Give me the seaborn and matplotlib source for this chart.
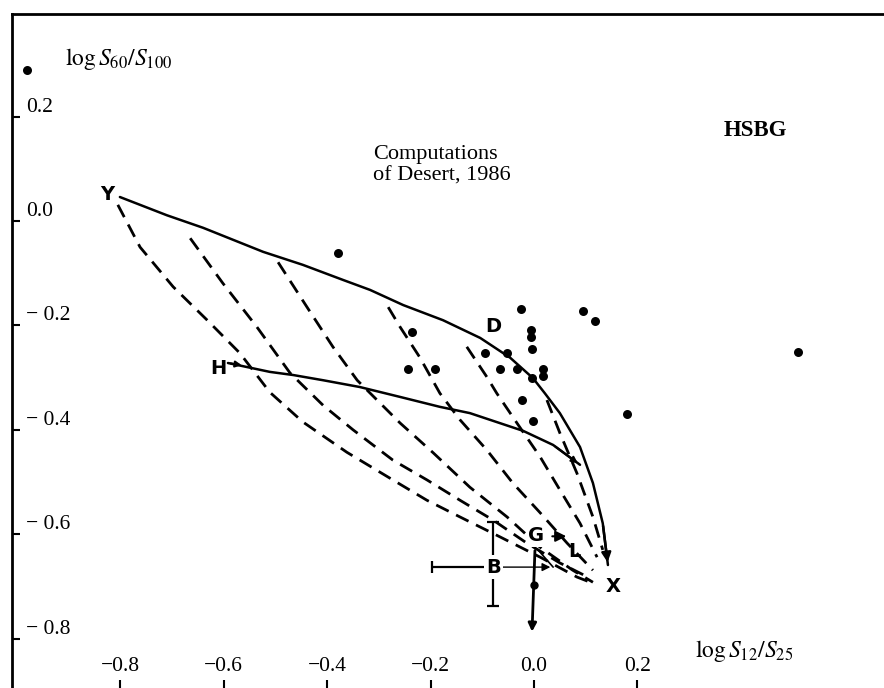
import numpy as np
import pandas as pd
import matplotlib.pyplot as plt
import seaborn as sns

sns.set_theme(style='white')
plt.rcParams['font.family'] = ['Liberation Serif', 'DejaVu Serif']
plt.rcParams['mathtext.fontset'] = 'stix'
plt.rcParams['text.color'] = 'black'

# HSBG sources: log S12/S25 vs log S60/S100
dot_x = [-0.981, -0.379, -0.025, 0.095, 0.118, -0.236, -0.006, -0.006, -0.004,
         -0.095, -0.052, -0.244, -0.191, -0.066, -0.033, 0.017, 0.017, -0.004,
         -0.023, -0.002, 0.180, 0.511]
dot_y = [0.289, -0.061, -0.169, -0.172, -0.192, -0.213, -0.209, -0.222, -0.245,
         -0.253, -0.253, -0.284, -0.284, -0.284, -0.284, -0.284, -0.297, -0.301,
         -0.343, -0.383, -0.370, -0.251]

# computations of Desert (1986): solid curves
yx_x = [-0.801, -0.710, -0.640, -0.524, -0.447, -0.369, -0.317, -0.253, -0.176,
        -0.104, -0.046, -0.002, 0.021, 0.050, 0.089, 0.114, 0.133, 0.143]
yx_y = [0.046, 0.011, -0.013, -0.059, -0.084, -0.113, -0.132, -0.161, -0.190,
        -0.224, -0.262, -0.301, -0.330, -0.368, -0.433, -0.502, -0.579, -0.659]
hx_x = [-0.592, -0.511, -0.466, -0.408, -0.337, -0.259, -0.182, -0.124, -0.021, 0.037, 0.089]
hx_y = [-0.272, -0.289, -0.295, -0.305, -0.318, -0.337, -0.356, -0.368, -0.402, -0.429, -0.467]

# dashed curves
d1_x = [-0.805, -0.762, -0.698, -0.632, -0.569, -0.511, -0.447, -0.362, -0.273,
        -0.207, -0.143, -0.066, 0.012, 0.083, 0.114]
d1_y = [0.031, -0.050, -0.126, -0.190, -0.253, -0.328, -0.385, -0.443, -0.496,
        -0.535, -0.567, -0.605, -0.644, -0.682, -0.694]
d2_x = [-0.665, -0.602, -0.536, -0.472, -0.408, -0.350, -0.273, -0.207, -0.143,
        -0.079, -0.014, 0.050, 0.108]
d2_y = [-0.033, -0.119, -0.203, -0.291, -0.353, -0.400, -0.458, -0.496, -0.535,
        -0.573, -0.617, -0.655, -0.684]
d3_x = [-0.495, -0.439, -0.389, -0.342, -0.259, -0.195, -0.124, -0.052, 0.012, 0.075, 0.114]
d3_y = [-0.079, -0.165, -0.241, -0.305, -0.387, -0.444, -0.510, -0.567, -0.625, -0.669, -0.692]
d4_x = [-0.282, -0.259, -0.221, -0.182, -0.143, -0.091, -0.041, 0.012, 0.064, 0.114]
d4_y = [-0.165, -0.203, -0.261, -0.330, -0.381, -0.439, -0.502, -0.559, -0.617, -0.669]
d5_x = [-0.130, -0.091, -0.072, -0.033, 0.012, 0.050, 0.089, 0.122]
d5_y = [-0.241, -0.299, -0.330, -0.387, -0.452, -0.515, -0.579, -0.644]
d6_x = [0.025, 0.050, 0.083, 0.114, 0.133]
d6_y = [-0.343, -0.406, -0.483, -0.567, -0.630]

# letters
lab_text = ['Y', 'H', 'D', 'G', 'L', 'B', 'X']
lab_x = [-0.826, -0.611, -0.079, 0.004, 0.079, -0.079, 0.153]
lab_y = [0.050, -0.282, -0.203, -0.603, -0.634, -0.663, -0.701]

# B with its range
b_x, b_y = -0.079, -0.663
b_xlo, b_xhi = -0.197, 0.037
b_ylo, b_yhi = -0.738, -0.577

xticks = [-0.8, -0.6, -0.4, -0.2, 0.0, 0.2]
xticklabels = ['−0.8', '−0.6', '−0.4', '−0.2', '0.0', '0.2']
yticks = [0.2, 0.0, -0.2, -0.4, -0.6, -0.8]
yticklabels = ['0.2', '0.0', '− 0.2', '− 0.4', '− 0.6', '− 0.8']

fig = plt.figure(figsize=(8.84, 6.88), dpi=100)
ax = fig.add_axes([12 / 884, 0, 1 - 12 / 884, 674 / 688])

for cx, cy in [(yx_x, yx_y), (hx_x, hx_y)]:
    sns.lineplot(x=cx, y=cy, sort=False, estimator=None, color='black', lw=1.8, ax=ax)

for cx, cy in [(d1_x, d1_y), (d2_x, d2_y), (d3_x, d3_y), (d4_x, d4_y), (d5_x, d5_y), (d6_x, d6_y)]:
    sns.lineplot(x=cx, y=cy, sort=False, estimator=None, color='black', lw=2.0,
                 linestyle=(0, (5, 3)), ax=ax)

sns.scatterplot(x=dot_x, y=dot_y, color='black', s=42, edgecolor='black', linewidth=0, ax=ax)

arrow = dict(arrowstyle='-|>', color='black', lw=1.8, mutation_scale=14)
# arrow heads on the curves
ax.annotate('', xy=(yx_x[-1], yx_y[-1]), xytext=(yx_x[-2], yx_y[-2]), arrowprops=arrow)
ax.annotate('', xy=(hx_x[-1], hx_y[-1]), xytext=(hx_x[-2], hx_y[-2]),
            arrowprops=dict(arrowstyle='-|>', color='black', lw=1.5, mutation_scale=9))
ax.annotate('', xy=(-0.560, -0.277), xytext=(hx_x[0], hx_y[0]),
            arrowprops=dict(arrowstyle='-|>', color='black', lw=1.5, mutation_scale=9))

# B and its range
ax.errorbar([b_x], [b_y], xerr=[[b_x - b_xlo], [0]], yerr=[[b_y - b_ylo], [b_yhi - b_y]],
            fmt='none', ecolor='black', elinewidth=1.6, capsize=4, capthick=1.6)
ax.annotate('', xy=(b_xhi, b_y), xytext=(b_x, b_y),
            arrowprops=dict(arrowstyle='-|>', color='black', lw=1.0, mutation_scale=12))

# G and its moves
ax.annotate('', xy=(0.068, -0.604), xytext=(0.030, -0.604),
            arrowprops=dict(arrowstyle='-|>', color='black', lw=1.5, mutation_scale=16))
ax.plot([0.006, b_xhi], [-0.628, b_y], color='black', lw=1.2)
ax.annotate('', xy=(-0.004, -0.792), xytext=(0.002, -0.626),
            arrowprops=dict(arrowstyle='-|>', color='black', lw=2.0, mutation_scale=12))
ax.plot([0.0], [-0.697], marker='o', ms=5, color='black')

for t, lx, ly in zip(lab_text, lab_x, lab_y):
    ax.text(lx, ly, t, family='DejaVu Sans', weight='bold', fontsize=14, ha='center', va='center',
            color='black',
            bbox=dict(facecolor='white', edgecolor='none', pad=1.5) if t in ('B', 'G') else None)

ax.text(-0.907, 0.310, r'$\log S_{60}/S_{100}$', fontsize=17, ha='left', va='center')
ax.text(0.311, -0.824, r'$\log S_{12}/S_{25}$', fontsize=17, ha='left', va='center')
ax.text(-0.311, 0.107, 'Computations\nof Desert, 1986', fontsize=16, ha='left', va='center',
        linespacing=1.15)
ax.text(0.429, 0.174, 'HSBG', fontsize=16.5, weight='bold', ha='center', va='center')

ax.set_xlim(-1.0097, 0.677)
ax.set_ylim(-0.8946, 0.3966)
ax.set_xticks(xticks)
ax.set_xticklabels(xticklabels)
ax.set_yticks(yticks)
ax.set_yticklabels(yticklabels)
ax.tick_params(axis='x', direction='in', length=6, width=1.5, pad=-22, labelsize=15.5,
               bottom=True, colors='black')
ax.tick_params(axis='y', direction='in', length=6, width=1.5, pad=-10, labelsize=15.5,
               left=True, colors='black')
plt.setp(ax.get_yticklabels(), ha='left', va='bottom')
ax.set_xlabel('')
ax.set_ylabel('')

ax.spines['right'].set_visible(False)
ax.spines['bottom'].set_visible(False)
for side in ['left', 'top']:
    ax.spines[side].set_color('black')
    ax.spines[side].set_linewidth(2)

plt.savefig('out.png', dpi=100)
